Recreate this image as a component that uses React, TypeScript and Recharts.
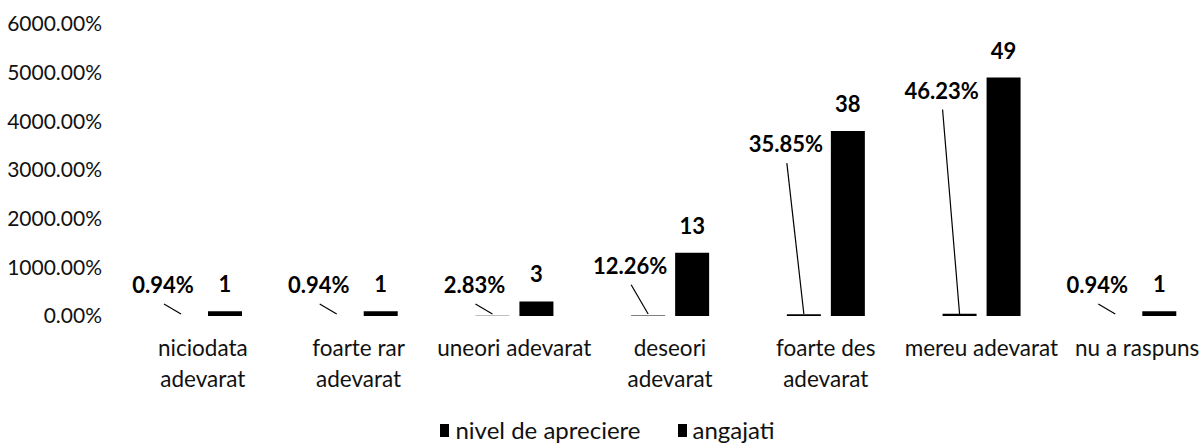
import { BarChart, Bar, XAxis, YAxis, Legend, LabelList } from 'recharts';

const categories = [
  'niciodata\nadevarat',
  'foarte rar\nadevarat',
  'uneori adevarat',
  'deseori\nadevarat',
  'foarte des\nadevarat',
  'mereu adevarat',
  'nu a raspuns',
];
// share of answers (1 = 100%)
const nivel = [0.0094, 0.0094, 0.0283, 0.1226, 0.3585, 0.4623, 0.0094];
// number of employees
const angajati = [1, 1, 3, 13, 38, 49, 1];
const yTicks = [0, 10, 20, 30, 40, 50, 60];
const seriesNames = ['nivel de apreciere', 'angajati'];

const data = categories.map((name, i) => ({ name, nivel: nivel[i], angajati: angajati[i] }));

const FONT = 'Lato, "Open Sans", sans-serif';
const BAR_SIZE = 34;
const BAR_GAP = 10;

const pct = (v: number) => (v * 100).toFixed(2) + '%';

function box(props: any) {
  const vb = props.viewBox ?? {};
  return {
    x: Number(props.x ?? vb.x),
    y: Number(props.y ?? vb.y),
    width: Number(props.width ?? vb.width),
    height: Number(props.height ?? vb.height),
  };
}

function CategoryTick({ x, y, payload }: any) {
  const lines = String(payload.value).split('\n');
  return (
    <text x={x} y={y} textAnchor="middle" fontFamily={FONT} fontSize={22.5} fill="#111">
      {lines.map((l, i) => (
        <tspan key={i} x={x} y={y + 40 + i * 31}>{l}</tspan>
      ))}
    </text>
  );
}

// count label above the angajati bar
function CountLabel(props: any) {
  const { x, y, width, height } = box(props);
  const base = y + height;
  const ty = Math.min(y - 19, base - 23);
  return (
    <text x={x + width / 2} y={ty} textAnchor="middle" fontFamily={FONT} fontSize={22} fontWeight="bold" fill="#000">
      {props.value}
    </text>
  );
}

// percentage label for the (tiny) nivel bar, with a leader line, placed from the neighbouring angajati bar
function ShareLabel(props: any) {
  const { x, y, height } = box(props);
  const base = y + height;
  const cx = x - BAR_GAP - BAR_SIZE / 2;
  const ty = Math.min(y + 21, base - 23);
  const tx = cx - 18;
  return (
    <g>
      <line x1={tx + 1} y1={ty + 11} x2={cx} y2={base - 2} stroke="#000" strokeWidth={1.2} />
      <text x={tx} y={ty} textAnchor="middle" fontFamily={FONT} fontSize={22} fontWeight="bold" fill="#000">
        {pct(Number(props.value))}
      </text>
    </g>
  );
}

function LegendContent() {
  return (
    <div
      style={{
        height: 28,
        lineHeight: '28px',
        display: 'flex',
        justifyContent: 'center',
        gap: 37,
        fontFamily: FONT,
        fontSize: 24,
        color: '#111',
      }}
    >
      {seriesNames.map((n) => (
        <span key={n} style={{ display: 'flex', alignItems: 'center' }}>
          <span style={{ display: 'inline-block', width: 9, height: 13, background: '#000', marginRight: 6 }} />
          {n}
        </span>
      ))}
    </div>
  );
}

export default function App() {
  return (
    <div
      style={{
        position: 'absolute',
        left: 0,
        top: 0,
        width: 1199,
        height: 444,
        overflow: 'hidden',
        background: '#fff',
      }}
    >
      <BarChart
        width={1216}
        height={444}
        data={data}
        barSize={BAR_SIZE}
        barGap={BAR_GAP}
        margin={{ top: 24, right: 1, left: 0, bottom: 0 }}
      >
        <XAxis
          dataKey="name"
          axisLine={false}
          tickLine={false}
          tickSize={0}
          tickMargin={0}
          height={100}
          interval={0}
          tick={<CategoryTick />}
        />
        <YAxis
          width={125}
          domain={[0, 60]}
          ticks={yTicks}
          axisLine={false}
          tickLine={false}
          tickSize={0}
          tickMargin={23}
          tickFormatter={pct}
          tick={{ fontFamily: FONT, fontSize: 21, fill: '#111' }}
        />
        <Legend verticalAlign="bottom" content={<LegendContent />} />
        <Bar dataKey="nivel" name={seriesNames[0]} fill="#000" isAnimationActive={false} />
        <Bar dataKey="angajati" name={seriesNames[1]} fill="#000" isAnimationActive={false}>
          <LabelList dataKey="angajati" content={<CountLabel />} />
          <LabelList dataKey="nivel" content={<ShareLabel />} />
        </Bar>
      </BarChart>
    </div>
  );
}
